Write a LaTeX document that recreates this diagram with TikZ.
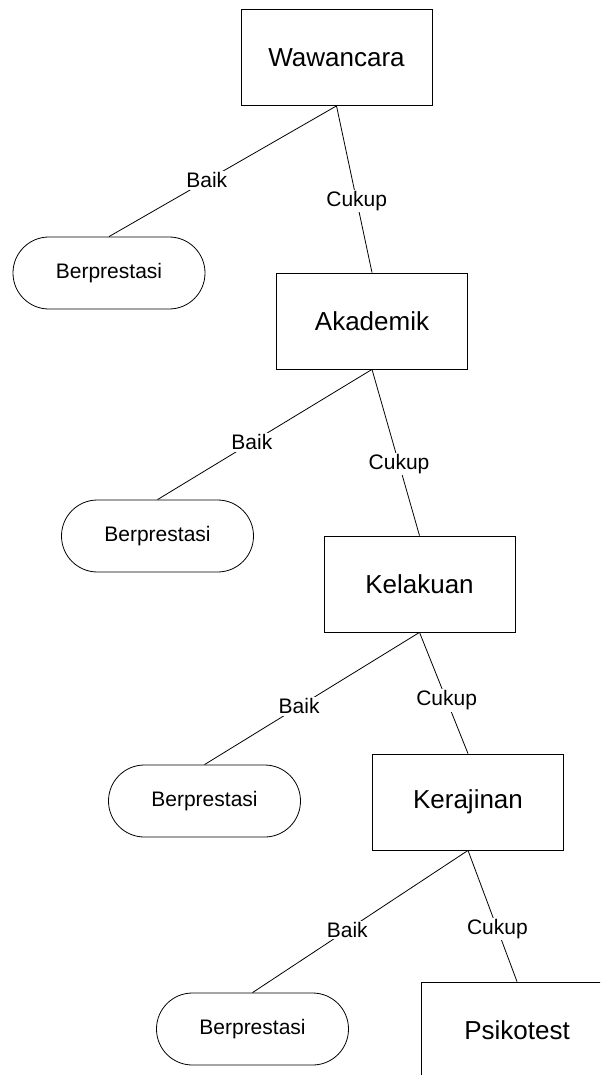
\documentclass[tikz,border=0pt]{standalone}
\usepackage{fontspec}
\setmainfont{Liberation Sans}
\begin{document}
\begin{tikzpicture}[x=1pt,y=-1pt, line width=0.8pt,
  crit/.style={draw, rectangle, minimum width=191pt, minimum height=96pt,
    inner sep=0pt, font=\fontsize{26}{30}\selectfont},
  leaf/.style={draw, rectangle, rounded corners=35.9pt, minimum width=192pt,
    minimum height=72pt, inner sep=0pt, font=\fontsize{21}{25}\selectfont},
  edgelbl/.style={fill=white, inner sep=1.5pt, font=\fontsize{21}{25}\selectfont}]
\useasboundingbox (0,0) rectangle (600,1075);
\clip (0,0) rectangle (600,1075);

% decision boxes
\node[crit] (wawancara) at (336.5,57.5) {Wawancara};
\node[crit] (akademik)  at (372,321)    {Akademik};
\node[crit] (kelakuan)  at (419.5,584)  {Kelakuan};
\node[crit] (kerajinan) at (468,802)    {Kerajinan};
\node[crit] (psikotest) at (517,1030)   {Psikotest};

% outcome leaves
\node[leaf] (b1) at (109,273)    {Berprestasi};
\node[leaf] (b2) at (157.5,536)  {Berprestasi};
\node[leaf] (b3) at (204.5,801)  {Berprestasi};
\node[leaf] (b4) at (252.5,1029) {Berprestasi};

% branches
\draw (wawancara.south) -- node[edgelbl, pos=0.57] {Baik} (b1.north);
\draw (wawancara.south) -- node[edgelbl, pos=0.57] {Cukup} (akademik.north);
\draw (akademik.south) -- node[edgelbl, pos=0.56] {Baik} (b2.north);
\draw (akademik.south) -- node[edgelbl, pos=0.57] {Cukup} (kelakuan.north);
\draw (kelakuan.south) -- node[edgelbl, pos=0.56] {Baik} (b3.north);
\draw (kelakuan.south) -- node[edgelbl, pos=0.56] {Cukup} (kerajinan.north);
\draw (kerajinan.south) -- node[edgelbl, pos=0.56] {Baik} (b4.north);
\draw (kerajinan.south) -- node[edgelbl, pos=0.6] {Cukup} (psikotest.north);
\end{tikzpicture}
\end{document}
